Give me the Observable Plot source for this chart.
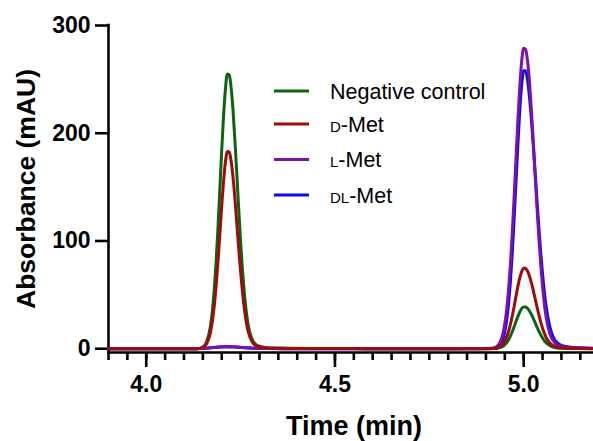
<!DOCTYPE html>
<html><head><meta charset="utf-8">
<script src="https://cdn.jsdelivr.net/npm/d3@7"></script>
<script src="https://cdn.jsdelivr.net/npm/@observablehq/plot@0.6"></script>
<style>
body{margin:0;background:#fff;}
#chart svg{display:block;}
</style></head><body><div id="chart"></div>
<script>
const time = [3.90,4.00,4.10,4.13,
 4.14,4.15,4.16,4.17,4.175,4.18,4.185,4.19,4.195,4.20,4.205,4.21,4.215,4.22,4.225,4.23,4.235,4.24,4.245,4.25,4.255,4.26,4.265,4.27,4.28,4.29,4.30,4.31,4.32,4.34,4.38,
 4.45,4.55,4.65,4.75,4.85,4.90,
 4.92,4.93,4.94,4.945,4.95,4.955,4.96,4.965,4.97,4.975,4.98,4.985,4.99,4.995,5.00,5.005,5.01,5.015,5.02,5.025,5.03,5.035,5.04,5.045,5.05,5.055,5.06,5.07,5.08,5.09,5.10,5.12,5.15,5.185];

const negativeControl = [0,0,0,0,
 0.3,1.6,6.5,21,34.6,54,80,112,148,184.5,217,242,255,254,242,221,193,162,129.5,99.5,73,51.4,34.6,22.3,9.2,4.1,2.3,1.5,1.0,0.6,0.4,
 0.2,0.1,0,0,0,0,
 0.1,0.4,1.4,2.3,3.7,5.7,8.4,11.9,16,20.7,25.6,30.3,34.4,37.4,38.8,38.8,37.6,35.3,32.2,28.5,24.5,20.4,16.5,13,9.9,7.3,5.3,2.7,1.3,0.7,0.43,0.23,0.12,0.08];

const dMet = [0,0,0,0,
 0.2,1.1,4.6,15,24.9,39,57.6,80.5,106,132.6,156,174,183,182.5,174,159,139,116,93,71.5,52.5,37,24.9,16,6.6,2.9,1.7,1.1,0.7,0.45,0.3,
 0.15,0.1,0,0,0,0,
 0.2,0.8,2.7,4.5,7.2,11,16.2,22.9,30.8,39.8,49.3,58.4,66.2,71.9,74.7,74.6,72.2,67.8,61.9,54.8,47.1,39.2,31.8,25,19,14.1,10.1,5.1,2.5,1.35,0.8,0.45,0.2,0.15];

const lMet = [0,0,0,0.05,
 0.1,0.3,0.6,0.9,1.1,1.3,1.45,1.6,1.75,1.9,1.95,2.0,2.0,2.0,1.95,1.9,1.8,1.7,1.55,1.4,1.25,1.1,0.95,0.8,0.6,0.4,0.3,0.25,0.2,0.1,0.05,
 0,0,0,0,0.1,0.2,
 0.6,2.4,8.1,14,23.2,36.6,55,79,109,143,179,214.5,245,268,279,278,268,249.5,224,195,163.5,133,104,79,58,41,28,13.4,6.7,3.6,2.2,1.1,0.6,0.3];

const dlMet = [0,0,0,0.05,
 0.1,0.25,0.5,0.75,0.95,1.1,1.25,1.35,1.5,1.6,1.65,1.7,1.7,1.7,1.65,1.6,1.55,1.45,1.3,1.2,1.05,0.95,0.8,0.7,0.5,0.35,0.25,0.2,0.15,0.1,0.05,
 0,0,0,0,0.05,0.1,
 0.3,1.2,4.9,9,15.9,26.4,41.9,63,90,122,157,192,223,246,258,258,250,235,215,191,165.5,139,113.6,90,69.5,52,38,19.4,9.6,5.2,3.1,1.6,0.8,0.4];

const seriesNames = ["Negative control", "D-Met", "L-Met", "DL-Met"];
const seriesColors = ["#0b650f", "#a00a0a", "#7a10ad", "#0b0bf2"];
const drawOrder = ["Negative control", "DL-Met", "L-Met", "D-Met"];
const seriesValues = {"Negative control": negativeControl, "D-Met": dMet, "L-Met": lMet, "DL-Met": dlMet};
const xMajorTicks = [4.0, 4.5, 5.0];
const yTicks = [0, 100, 200, 300];
const xLabel = "Time (min)";
const yLabel = "Absorbance (mAU)";

const rows = drawOrder.flatMap(s => time.map((t, i) => ({t, v: seriesValues[s][i], series: s})));
const xMinorTicks = d3.range(0, 26).map(i => +(3.9 + i * 0.05).toFixed(2));

const font = "'Liberation Sans', Arial, Helvetica, sans-serif";
const chart = Plot.plot({
  width: 593, height: 441,
  marginLeft: 108, marginRight: 0, marginTop: 25, marginBottom: 89,
  style: {fontFamily: font, background: "#fff", color: "#000"},
  x: {domain: [3.9, 5.185]},
  y: {domain: [-3.5, 300]},
  color: {domain: seriesNames, range: seriesColors},
  marks: [
    Plot.axisX({ticks: xMinorTicks, tickSize: 8, tickFormat: () => "", strokeWidth: 2.6, label: null}),
    Plot.axisX({ticks: xMajorTicks, tickSize: 15, tickPadding: 8, tickFormat: d3.format(".1f"), fontSize: 23, fontWeight: "bold", strokeWidth: 2.6, label: null}),
    Plot.axisY({ticks: yTicks, tickSize: 13, tickPadding: 5, fontSize: 23, fontWeight: "bold", strokeWidth: 2.6, label: null}),
    Plot.ruleX([3.9], {y1: -3.5, y2: 300, strokeWidth: 2.6, strokeLinecap: "square"}),
    Plot.ruleY([-3.5], {x1: 3.9, x2: 5.185, strokeWidth: 2.6}),
    Plot.line(rows, {x: "t", y: "v", z: "series", stroke: "series", strokeWidth: 3, curve: "monotone-x", strokeLinejoin: "round"}),
    Plot.text([xLabel], {text: d => d, frameAnchor: "bottom", dx: 3, dy: 74, fontSize: 27, fontWeight: "bold", lineAnchor: "middle", textAnchor: "middle"}),
    Plot.text([yLabel], {text: d => d, frameAnchor: "left", dx: -82, rotate: -90, fontSize: 26.5, fontWeight: "bold", lineAnchor: "middle", textAnchor: "middle"})
  ]
});
document.getElementById("chart").appendChild(chart);

// legend
const svg = d3.select(chart);
const legendY = [91, 124, 159.5, 195];
const lg = svg.append("g").attr("font-family", font).attr("font-size", 21.5).attr("fill", "#000").attr("text-anchor", "start");
seriesNames.forEach((name, i) => {
  const y = legendY[i];
  lg.append("line").attr("x1", 274).attr("x2", 309).attr("y1", y).attr("y2", y)
    .attr("stroke", seriesColors[i]).attr("stroke-width", 3);
  const txt = lg.append("text").attr("x", 330).attr("y", y + 7.7).attr("text-anchor", "start");
  const m = name.match(/^([DL]+)(-.*)$/);
  if (m) {
    txt.append("tspan").attr("font-size", 15).text(m[1]);
    txt.append("tspan").text(m[2]);
  } else {
    txt.text(name);
  }
});
</script>
</body></html>
